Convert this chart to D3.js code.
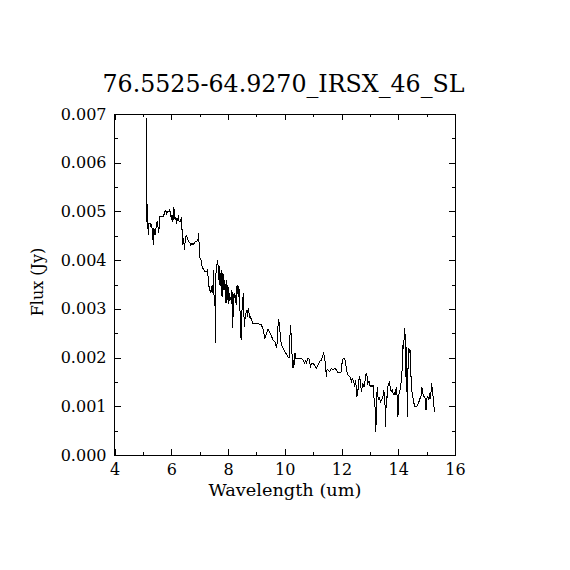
<!DOCTYPE html>
<html>
<head>
<meta charset="utf-8">
<script src="https://cdn.jsdelivr.net/npm/d3@7/dist/d3.min.js"></script>
<style>
  body { margin: 0; padding: 0; background: #fff; }
  svg text { font-family: "DejaVu Serif", serif; fill: #000; }
</style>
</head>
<body>
<svg id="chart" width="570" height="570"></svg>
<script>
// spectrum (um, Jy)
var wavelength = [
  5.12, 5.13, 5.14, 5.15, 5.17, 5.19, 5.21, 5.25, 5.27, 5.31, 5.33, 5.37, 5.39, 5.43, 5.46, 5.48,
  5.52, 5.55, 5.58, 5.60, 5.66, 5.72, 5.78, 5.81, 5.84, 5.86, 5.89, 5.93, 5.95, 5.99, 6.01, 6.03,
  6.06, 6.09, 6.12, 6.14, 6.16, 6.19, 6.25, 6.28, 6.33, 6.36, 6.39, 6.41, 6.43, 6.47, 6.50, 6.54,
  6.57, 6.61, 6.66, 6.69, 6.73, 6.77, 6.81, 6.84, 6.89, 6.94, 6.96, 6.98, 7.01,
  7.07, 7.09, 7.12, 7.18, 7.24, 7.28, 7.30, 7.33, 7.36, 7.38, 7.42, 7.44, 7.48, 7.50, 7.51, 7.54,
  7.56, 7.57, 7.60, 7.62, 7.65, 7.68, 7.70, 7.72, 7.75, 7.77, 7.79, 7.82, 7.84, 7.86, 7.89, 7.91,
  7.93, 7.96, 7.98, 8.00, 8.03, 8.05, 8.07, 8.10, 8.12, 8.14, 8.17, 8.19, 8.22, 8.24, 8.26, 8.29,
  8.31, 8.33, 8.36, 8.38, 8.40, 8.43, 8.45, 8.48, 8.50, 8.52, 8.55, 8.57, 8.59, 8.62, 8.64, 8.66,
  8.69, 8.71, 8.73, 8.76, 8.78, 8.80, 8.83, 8.88, 8.94, 9.06, 9.12,
  9.18, 9.24, 9.30, 9.36, 9.41, 9.47, 9.53, 9.59, 9.65, 9.68, 9.71, 9.73, 9.76, 9.79, 9.82, 9.85,
  9.88, 9.92, 9.96, 10.01, 10.06, 10.12, 10.15, 10.20, 10.22, 10.25, 10.27, 10.29, 10.32, 10.34, 10.36, 10.39,
  10.47, 10.59, 10.64, 10.70, 10.74, 10.76, 10.82, 10.88, 10.90, 10.94, 11.00, 11.05, 11.11, 11.17, 11.23, 11.29,
  11.32, 11.37, 11.41, 11.44, 11.47, 11.49, 11.52, 11.58, 11.64, 11.70, 11.76, 11.82, 11.87, 11.93, 11.99, 12.03,
  12.08, 12.11, 12.15, 12.17, 12.23, 12.29, 12.35, 12.38, 12.43, 12.46, 12.50, 12.52, 12.54, 12.58, 12.61, 12.64,
  12.67, 12.70, 12.73, 12.75, 12.79, 12.81, 12.87, 12.91, 12.93, 12.97, 13.01, 13.04, 13.08, 13.11, 13.13, 13.17,
  13.19, 13.21, 13.24, 13.26, 13.28, 13.32, 13.34, 13.38, 13.41, 13.44, 13.46, 13.49, 13.53, 13.55, 13.58, 13.60,
  13.63, 13.66, 13.69, 13.72, 13.75, 13.79, 13.81, 13.85, 13.87, 13.90, 13.93, 13.96, 13.99, 14.01, 14.05, 14.08,
  14.11, 14.14, 14.16, 14.19, 14.21, 14.23, 14.26, 14.28, 14.30, 14.33, 14.35, 14.37, 14.40, 14.42, 14.44, 14.47,
  14.49, 14.51, 14.54, 14.57, 14.63, 14.69, 14.75, 14.81, 14.83, 14.86, 14.89, 14.93, 14.96, 14.98, 15.01, 15.04,
  15.08, 15.10, 15.13, 15.16, 15.18, 15.21, 15.24, 15.27
];
var flux = [
  0.00691, 0.00479, 0.00551, 0.00490, 0.00479, 0.00452, 0.00476, 0.00476, 0.00469, 0.00472, 0.00462, 0.00431, 0.00465, 0.00452, 0.00465, 0.00476,
  0.00479, 0.00455, 0.00469, 0.00489, 0.00489, 0.00489, 0.00500, 0.00503, 0.00493, 0.00500, 0.00500, 0.00500, 0.00503, 0.00489, 0.00486, 0.00493,
  0.00479, 0.00510, 0.00489, 0.00483, 0.00489, 0.00479, 0.00489, 0.00479, 0.00479, 0.00489, 0.00448, 0.00431, 0.00445, 0.00421, 0.00448, 0.00450,
  0.00445, 0.00438, 0.00435, 0.00431, 0.00435, 0.00431, 0.00435, 0.00438, 0.00438, 0.00441, 0.00455, 0.00435, 0.00404,
  0.00397, 0.00383, 0.00383, 0.00376, 0.00376, 0.00380, 0.00363, 0.00346, 0.00339, 0.00332, 0.00346, 0.00332, 0.00353, 0.00380, 0.00305, 0.00318,
  0.00229, 0.00373, 0.00376, 0.00400, 0.00390, 0.00359, 0.00387, 0.00346, 0.00373, 0.00380, 0.00325, 0.00373, 0.00366, 0.00339, 0.00359, 0.00325,
  0.00311, 0.00359, 0.00318, 0.00346, 0.00311, 0.00332, 0.00318, 0.00325, 0.00311, 0.00339, 0.00260, 0.00328, 0.00325, 0.00332, 0.00322, 0.00308,
  0.00346, 0.00349, 0.00325, 0.00346, 0.00332, 0.00287, 0.00243, 0.00236, 0.00325, 0.00322, 0.00332, 0.00263, 0.00277, 0.00284, 0.00294, 0.00298,
  0.00284, 0.00301, 0.00294, 0.00287, 0.00280, 0.00284, 0.00277, 0.00270, 0.00270, 0.00270, 0.00267,
  0.00267, 0.00257, 0.00240, 0.00250, 0.00258, 0.00251, 0.00244, 0.00236, 0.00233, 0.00226, 0.00222, 0.00229, 0.00263, 0.00279, 0.00260, 0.00243,
  0.00226, 0.00222, 0.00217, 0.00212, 0.00207, 0.00201, 0.00199, 0.00267, 0.00250, 0.00216, 0.00188, 0.00178, 0.00195, 0.00185, 0.00209, 0.00199,
  0.00199, 0.00199, 0.00195, 0.00188, 0.00195, 0.00188, 0.00199, 0.00195, 0.00178, 0.00188, 0.00188, 0.00185, 0.00178, 0.00185, 0.00192, 0.00195,
  0.00201, 0.00209, 0.00199, 0.00178, 0.00161, 0.00175, 0.00175, 0.00171, 0.00178, 0.00175, 0.00178, 0.00175, 0.00169, 0.00169, 0.00171, 0.00195,
  0.00199, 0.00199, 0.00188, 0.00175, 0.00164, 0.00161, 0.00151, 0.00157, 0.00151, 0.00140, 0.00154, 0.00137, 0.00120, 0.00133, 0.00154, 0.00161,
  0.00147, 0.00130, 0.00140, 0.00147, 0.00140, 0.00144, 0.00168, 0.00161, 0.00147, 0.00151, 0.00140, 0.00144, 0.00140, 0.00144, 0.00123, 0.00106,
  0.00092, 0.00048, 0.00113, 0.00140, 0.00120, 0.00113, 0.00116, 0.00109, 0.00113, 0.00116, 0.00120, 0.00133, 0.00113, 0.00058, 0.00120, 0.00113,
  0.00140, 0.00144, 0.00151, 0.00137, 0.00130, 0.00133, 0.00128, 0.00123, 0.00130, 0.00123, 0.00140, 0.00120, 0.00079, 0.00123, 0.00130, 0.00137,
  0.00154, 0.00178, 0.00222, 0.00219, 0.00246, 0.00260, 0.00222, 0.00130, 0.00222, 0.00079, 0.00216, 0.00219, 0.00212, 0.00216, 0.00168, 0.00147,
  0.00123, 0.00120, 0.00113, 0.00099, 0.00099, 0.00103, 0.00113, 0.00123, 0.00140, 0.00130, 0.00120, 0.00120, 0.00113, 0.00092, 0.00116, 0.00120,
  0.00113, 0.00127, 0.00116, 0.00133, 0.00147, 0.00127, 0.00116, 0.00089
];

var xTicks = [4, 6, 8, 10, 12, 14, 16];
var yTicks = [0, 0.001, 0.002, 0.003, 0.004, 0.005, 0.006, 0.007];
var xMinor = [5, 7, 9, 11, 13, 15];
var yMinor = [0.0005, 0.0015, 0.0025, 0.0035, 0.0045, 0.0055, 0.0065];

var title = "76.5525-64.9270_IRSX_46_SL";
var xTitle = "Wavelength (um)";
var yTitle = "Flux (Jy)";

// plot box (window.top is read-only, so avoid those names)
var boxL = 114.5, boxR = 455, boxT = 114, boxB = 455;

var svg = d3.select("#chart");
svg.append("rect").attr("width", 570).attr("height", 570).attr("fill", "#fff");

var x = d3.scaleLinear().domain([4, 16]).range([boxL, boxR]);
var y = d3.scaleLinear().domain([0, 0.007]).range([boxB, boxT]);

function addAxis(axis, tx, ty, showLabels) {
  var g = svg.append("g")
    .attr("transform", "translate(" + tx + "," + ty + ")")
    .attr("shape-rendering", "crispEdges")
    .call(axis);
  g.select(".domain").remove();
  g.selectAll(".tick line").attr("stroke", "#000");
  if (!showLabels) g.selectAll(".tick text").remove();
  return g;
}

// major ticks (inward), with labels on bottom and left
var gx = addAxis(d3.axisBottom(x).tickValues(xTicks).tickSize(-6).tickPadding(9).tickFormat(d3.format("d")), 0, boxB, true);
gx.selectAll("text").attr("font-size", "16px").attr("font-family", "DejaVu Serif");
addAxis(d3.axisTop(x).tickValues(xTicks).tickSize(-6), 0, boxT, false);
var gy = addAxis(d3.axisLeft(y).tickValues(yTicks).tickSize(-6).tickPadding(8).tickFormat(d3.format(".3f")), boxL, 0, true);
gy.selectAll("text").attr("font-size", "16px").attr("font-family", "DejaVu Serif");
addAxis(d3.axisRight(y).tickValues(yTicks).tickSize(-6), boxR, 0, false);

// minor ticks
addAxis(d3.axisBottom(x).tickValues(xMinor).tickSize(-3), 0, boxB, false);
addAxis(d3.axisTop(x).tickValues(xMinor).tickSize(-3), 0, boxT, false);
addAxis(d3.axisLeft(y).tickValues(yMinor).tickSize(-3), boxL, 0, false);
addAxis(d3.axisRight(y).tickValues(yMinor).tickSize(-3), boxR, 0, false);

// frame
svg.append("rect")
  .attr("x", boxL).attr("y", boxT)
  .attr("width", boxR - boxL).attr("height", boxB - boxT)
  .attr("fill", "none").attr("stroke", "#000").attr("stroke-width", 1)
  .attr("shape-rendering", "crispEdges");

// spectrum
var pts = wavelength.map(function(w, i) { return [w, flux[i]]; });
var line = d3.line().x(function(d) { return x(d[0]); }).y(function(d) { return y(d[1]); });
svg.append("path")
  .datum(pts)
  .attr("d", line)
  .attr("fill", "none")
  .attr("stroke", "#000")
  .attr("stroke-width", 1)
  .attr("shape-rendering", "crispEdges");

// titles
svg.append("text")
  .attr("x", 283.5).attr("y", 91.5)
  .attr("text-anchor", "middle")
  .attr("font-size", "24px")
  .attr("textLength", 362)
  .attr("lengthAdjust", "spacingAndGlyphs")
  .text(title);

svg.append("text")
  .attr("x", 285).attr("y", 496)
  .attr("text-anchor", "middle")
  .attr("font-size", "17px")
  .attr("textLength", 153)
  .attr("lengthAdjust", "spacingAndGlyphs")
  .text(xTitle);

svg.append("text")
  .attr("transform", "translate(43," + 282 + ") rotate(-90)")
  .attr("text-anchor", "middle")
  .attr("font-size", "16px")
  .text(yTitle);
</script>
</body>
</html>
